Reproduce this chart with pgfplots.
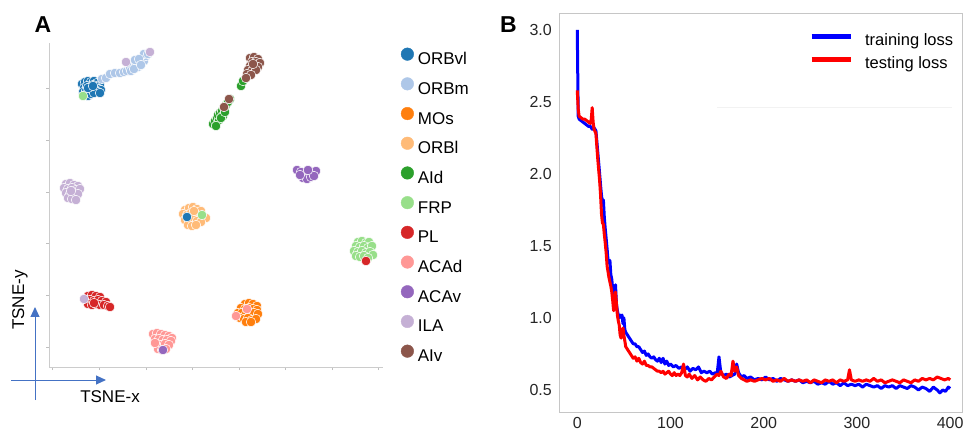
\documentclass[border=0pt]{standalone}
\usepackage{pgfplots}
\pgfplotsset{compat=1.18}
\usepackage{fontspec}
\setmainfont{Liberation Sans}
\usetikzlibrary{arrows.meta}
\definecolor{cORBvl}{HTML}{1F77B4}
\definecolor{cORBm}{HTML}{AEC7E8}
\definecolor{cMOs}{HTML}{FF7F0E}
\definecolor{cORBl}{HTML}{FFBB78}
\definecolor{cAId}{HTML}{2CA02C}
\definecolor{cFRP}{HTML}{98DF8A}
\definecolor{cPL}{HTML}{D62728}
\definecolor{cACAd}{HTML}{FF9896}
\definecolor{cACAv}{HTML}{9467BD}
\definecolor{cILA}{HTML}{C5B0D5}
\definecolor{cAIv}{HTML}{8C564B}
\definecolor{arrowblue}{HTML}{4472C4}
\pgfplotsset{
  dot/.style={only marks, mark=*, mark size=4.8pt, color=#1,
    mark options={draw=white, line width=0.5pt, fill=#1}},
}
\begin{document}
\begin{tikzpicture}
\path[use as bounding box] (0pt,0pt) rectangle (963pt,431pt);
% ---------------- Panel A ----------------
\begin{axis}[
  at={(216pt,226pt)}, anchor=center,
  scale only axis, width=334pt, height=324pt,
  xmin=49, xmax=383, ymin=-367, ymax=-43,
  axis lines*=left,
  axis line style={draw=gray!40, line width=0.8pt},
  xtick={52,99,146,192.7,239,285.7,332,378},
  ytick={-347,-295,-243,-192,-140,-88},
  xticklabels={}, yticklabels={},
  tick align=outside, major tick length=3pt,
  tick style={draw=gray!50, line width=0.6pt},
  clip=false,
  legend image code/.code={\fill[#1] (0pt,6pt) circle[radius=6.3pt];},
  legend cell align=left,
  legend style={draw=none, fill=none, at={(1.044,0.9924)}, anchor=north west,
    font=\fontsize{17}{20}\selectfont, row sep=9.7pt, column sep=4pt,
    nodes={inner sep=0pt, text height=12pt, text depth=3pt}},
]
\addplot[dot=cORBvl] coordinates {(82,-84)(85,-82)(88,-81)(91,-82)(94,-81)(97,-83)(100,-85)(84,-88)(87,-86)(90,-87)(93,-85)(96,-87)(99,-89)(101,-90)(83,-92)(86,-91)(89,-90)(92,-90)(95,-91)(98,-92)(85,-95)(88,-96)(91,-94)(94,-93)(100,-93)(88,-88)(93,-86)};
\addlegendentry{ORBvl}
\addplot[dot=cORBm] coordinates {(102,-79)(106,-78)(110,-74)(115,-73)(120,-73)(124,-72)(127,-71)(130,-68)(133,-65)(131,-71)(136,-64)(138,-67)(140,-62)(142,-58)(144,-61)(146,-56)(144,-54)(148,-54)(135,-60)(139,-59)(134,-69)(141,-65)};
\addlegendentry{ORBm}
\addplot[dot=cMOs] coordinates {(245,-304)(249,-303)(253,-304)(257,-306)(241,-308)(245,-309)(249,-308)(253,-309)(257,-310)(238,-313)(242,-313)(246,-314)(250,-314)(254,-313)(258,-314)(240,-318)(244,-319)(248,-318)(252,-320)(256,-319)(246,-322)(251,-322)};
\addlegendentry{MOs}
\addplot[dot=cORBl] coordinates {(185,-210)(189,-208)(193,-207)(197,-209)(201,-211)(183,-214)(187,-215)(191,-213)(195,-214)(199,-216)(203,-217)(206,-218)(185,-220)(189,-221)(193,-219)(197,-221)(201,-222)(188,-225)(192,-226)(196,-225)(194,-211)};
\addlegendentry{ORBl}
\addplot[dot=cAId] coordinates {(213,-124)(215,-121)(217,-118)(219,-120)(218,-115)(220,-113)(222,-111)(224,-108)(223,-116)(226,-105)(228,-102)(230,-99)(221,-118)(216,-126)(225,-112)(241,-86)(243,-81)};
\addlegendentry{AId}
\addplot[dot=cFRP] coordinates {(358,-242)(362,-241)(366,-243)(369,-242)(356,-246)(360,-247)(364,-246)(368,-248)(372,-246)(354,-251)(358,-252)(362,-251)(366,-253)(370,-252)(373,-255)(356,-256)(360,-257)(364,-256)(368,-258)};
\addlegendentry{FRP}
\addplot[dot=cPL] coordinates {(88,-296)(92,-295)(96,-296)(100,-297)(86,-300)(90,-300)(94,-301)(98,-300)(102,-301)(106,-302)(88,-304)(92,-305)(96,-304)(100,-305)(104,-305)(108,-306)(110,-307)(94,-303)};
\addlegendentry{PL}
\addplot[dot=cACAd] coordinates {(153,-334)(157,-333)(161,-334)(165,-335)(169,-336)(172,-338)(155,-339)(159,-339)(163,-340)(167,-340)(171,-341)(157,-344)(161,-345)(165,-344)(169,-345)(158,-349)(162,-350)(166,-349)(155,-343)};
\addlegendentry{ACAd}
\addplot[dot=cACAv] coordinates {(297,-170)(301,-172)(305,-176)(309,-174)(313,-172)(316,-171)(303,-178)(307,-179)(311,-177)(300,-175)(314,-176)(308,-170)};
\addlegendentry{ACAv}
\addplot[dot=cILA] coordinates {(66,-184)(70,-183)(74,-185)(78,-186)(64,-188)(68,-189)(72,-188)(76,-190)(80,-189)(66,-193)(70,-194)(74,-195)(78,-194)(68,-198)(72,-199)(76,-200)(71,-191)};
\addlegendentry{ILA}
\addplot[dot=cAIv] coordinates {(250,-58)(254,-57)(258,-59)(252,-62)(256,-62)(260,-63)(250,-66)(254,-66)(258,-67)(248,-70)(252,-71)(256,-70)(247,-74)(251,-75)(246,-78)(253,-64)};
\addlegendentry{AIv}
% stray points
\addplot[dot=cFRP, forget plot] coordinates {(83,-96)(202,-215)};
\addplot[dot=cILA, forget plot] coordinates {(126,-62)(150,-52)(84,-299)};
\addplot[dot=cAIv, forget plot] coordinates {(224,-107)(229,-99)};
\addplot[dot=cORBvl, forget plot] coordinates {(187,-217)};
\addplot[dot=cPL, forget plot] coordinates {(366,-261)};
\addplot[dot=cACAd, forget plot] coordinates {(247,-309)(236,-316)};
\addplot[dot=cACAv, forget plot] coordinates {(163,-350)};
\end{axis}
% ---------------- Panel B ----------------
\begin{axis}[
  at={(760.5pt,218pt)}, anchor=center,
  scale only axis, width=403pt, height=398pt,
  xmin=-19.6, xmax=412.7, ymin=0.347, ymax=3.11,
  axis line style={draw=gray!45, line width=1pt},
  xtick={0,100,200,300,400}, ytick={0.5,1,1.5,2,2.5,3},
  major tick length=0pt,
  /pgf/number format/assume math mode=true,
  ticklabel style={font=\fontsize{16}{19}\selectfont, text=black!85, inner sep=0pt},
  yticklabel style={xshift=-7pt, /pgf/number format/fixed, /pgf/number format/fixed zerofill, /pgf/number format/precision=1},
  xticklabel style={yshift=-5pt},
  legend image code/.code={\draw[#1, line width=5pt] (0pt,5pt) -- (39pt,5pt);},
  legend cell align=left,
  legend style={draw=none, fill=none, at={(0.6126,0.9561)}, anchor=north west,
    font=\fontsize{16.5}{19}\selectfont, row sep=7.5pt, column sep=12pt,
    nodes={inner sep=0pt, text height=12pt, text depth=3.5pt}},
]
\addplot[forget plot, draw=gray!10, line width=0.8pt] coordinates {(150,2.465)(402,2.465)};
\addplot[color=blue, line width=3pt, line join=round] coordinates {
(0,3.00)(1,2.40)(2,2.38)(4,2.37)(6,2.36)(8,2.35)(10,2.34)(12,2.33)(14,2.33)(16,2.31)(18,2.32)(20,2.30)
(22,2.15)(24,2.00)(25,1.92)(26,1.85)(27,1.80)(28,1.82)(29,1.70)(30,1.62)(31,1.55)(32,1.48)(33,1.40)
(34,1.38)(35,1.40)(36,1.30)(37,1.27)(38,1.20)(39,1.15)(40,1.20)(41,1.23)(42,1.10)(43,1.05)(44,1.02)
(45,1.00)(46,1.02)(47,1.01)(48,1.02)(49,0.96)(50,1.00)(51,0.92)(52,0.90)(54,0.88)(56,0.86)(58,0.84)
(60,0.82)(62,0.82)(64,0.80)(66,0.80)(68,0.78)(70,0.76)(72,0.77)(74,0.74)(76,0.75)(78,0.73)(80,0.72)
(82,0.73)(84,0.71)(86,0.70)(88,0.72)(90,0.69)(92,0.72)(94,0.68)(96,0.70)(98,0.67)(100,0.68)(103,0.66)
(106,0.67)(109,0.65)(112,0.66)(115,0.64)(118,0.66)(121,0.63)(124,0.65)(127,0.64)(130,0.66)(133,0.62)
(136,0.63)(139,0.62)(142,0.63)(145,0.61)(148,0.62)(150,0.61)(152,0.73)(154,0.62)(157,0.60)(160,0.61)
(163,0.59)(166,0.60)(169,0.61)(171,0.68)(173,0.62)(176,0.59)(179,0.60)(182,0.58)(186,0.59)(190,0.57)
(194,0.58)(198,0.57)(202,0.59)(206,0.57)(210,0.58)(214,0.56)(218,0.58)(222,0.57)(226,0.56)(230,0.57)
(234,0.56)(238,0.57)(242,0.55)(246,0.56)(250,0.55)(254,0.56)(258,0.54)(262,0.55)(266,0.54)(270,0.56)
(274,0.54)(278,0.55)(282,0.53)(286,0.55)(290,0.53)(294,0.54)(298,0.53)(302,0.54)(306,0.52)(310,0.54)
(314,0.53)(318,0.52)(322,0.53)(326,0.51)(330,0.53)(334,0.52)(338,0.53)(342,0.51)(346,0.53)(350,0.52)
(354,0.51)(358,0.53)(362,0.52)(366,0.50)(370,0.52)(374,0.51)(378,0.49)(382,0.52)(386,0.50)(389,0.48)
(392,0.50)(395,0.49)(398,0.52)(400,0.51)};
\addlegendentry{training loss}
\addplot[color=red, line width=3pt, line join=round] coordinates {
(0,2.58)(1,2.45)(2,2.40)(4,2.39)(6,2.38)(8,2.38)(10,2.37)(12,2.36)(14,2.35)(15,2.38)(16,2.46)(17,2.36)
(18,2.31)(20,2.28)(22,2.10)(24,1.95)(25,1.85)(26,1.72)(27,1.66)(28,1.65)(29,1.58)(30,1.52)(31,1.45)
(32,1.36)(33,1.32)(34,1.28)(35,1.25)(36,1.22)(37,1.18)(38,1.12)(39,1.05)(40,1.08)(41,1.18)(42,1.10)
(43,1.02)(44,0.98)(45,0.95)(46,0.88)(47,0.86)(48,0.90)(49,0.93)(50,0.88)(51,0.84)(52,0.80)(54,0.78)
(56,0.76)(58,0.74)(60,0.72)(62,0.73)(64,0.70)(66,0.72)(68,0.69)(70,0.68)(72,0.70)(74,0.67)(76,0.67)
(78,0.66)(80,0.66)(82,0.65)(84,0.64)(86,0.63)(88,0.63)(90,0.62)(92,0.63)(94,0.61)(96,0.62)(98,0.63)
(100,0.61)(102,0.60)(104,0.62)(106,0.60)(108,0.61)(110,0.60)(112,0.62)(114,0.68)(116,0.60)(118,0.59)
(120,0.61)(123,0.58)(126,0.60)(129,0.57)(132,0.59)(135,0.57)(138,0.56)(141,0.58)(144,0.57)(147,0.59)
(150,0.61)(152,0.60)(154,0.63)(157,0.59)(160,0.58)(163,0.61)(165,0.60)(167,0.70)(169,0.63)(171,0.66)
(173,0.60)(176,0.58)(179,0.57)(182,0.56)(186,0.57)(190,0.56)(194,0.57)(198,0.58)(202,0.57)(206,0.58)
(210,0.56)(214,0.57)(218,0.56)(222,0.58)(226,0.56)(230,0.57)(234,0.56)(238,0.57)(242,0.56)(246,0.57)
(250,0.55)(254,0.57)(258,0.56)(262,0.55)(266,0.57)(270,0.56)(274,0.57)(278,0.55)(282,0.57)(286,0.56)
(290,0.57)(292,0.64)(294,0.57)(298,0.56)(302,0.57)(306,0.56)(310,0.57)(314,0.56)(318,0.58)(322,0.56)
(326,0.57)(330,0.55)(334,0.56)(338,0.57)(342,0.56)(346,0.55)(350,0.57)(354,0.56)(358,0.55)(362,0.57)
(366,0.56)(370,0.58)(374,0.57)(378,0.58)(382,0.57)(386,0.59)(390,0.58)(394,0.57)(398,0.58)(400,0.57)};
\addlegendentry{testing loss}
\end{axis}
% ---------------- Annotations ----------------
\node[font=\bfseries\fontsize{23}{26}\selectfont, inner sep=0pt] at (43pt,406pt) {A};
\node[font=\bfseries\fontsize{23}{26}\selectfont, anchor=west, inner sep=0pt] at (500pt,406pt) {B};
\node[font=\fontsize{17}{20}\selectfont, inner sep=0pt] at (110pt,34pt) {TSNE-x};
\node[font=\fontsize{17}{20}\selectfont, inner sep=0pt, rotate=90] at (20pt,131pt) {TSNE-y};
\draw[arrowblue, line width=1pt, -{Triangle[length=10pt,width=9pt]}] (35pt,31pt) -- (35pt,124pt);
\draw[arrowblue, line width=1pt, -{Triangle[length=10pt,width=9pt]}] (11pt,51pt) -- (106pt,51pt);
\end{tikzpicture}
\end{document}
